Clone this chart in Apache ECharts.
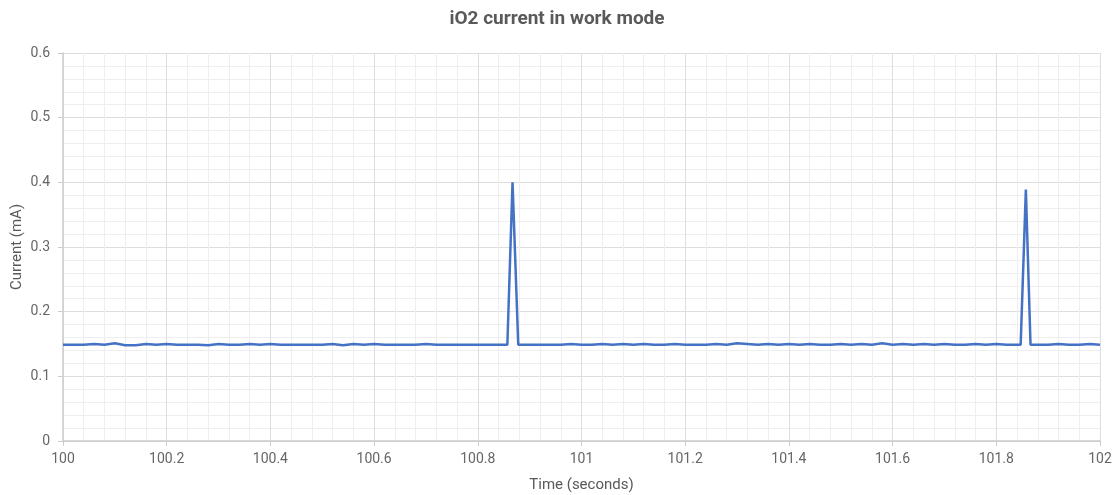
<!DOCTYPE html>
<html>
<head>
<meta charset="utf-8">
<script src="https://cdn.jsdelivr.net/npm/echarts@6/dist/echarts.min.js"></script>
<style>
  html, body { margin: 0; padding: 0; background: #fff; }
  #chart { width: 1114px; height: 495px; }
</style>
</head>
<body>
<div id="chart"></div>
<script>
// sample times (s) and measured current (mA)
const times = [
  100.00, 100.02, 100.04, 100.06, 100.08, 100.10, 100.12, 100.14, 100.16, 100.18,
  100.20, 100.22, 100.24, 100.26, 100.28, 100.30, 100.32, 100.34, 100.36, 100.38,
  100.40, 100.42, 100.44, 100.46, 100.48, 100.50, 100.52, 100.54, 100.56, 100.58,
  100.60, 100.62, 100.64, 100.66, 100.68, 100.70, 100.72, 100.74, 100.76, 100.78,
  100.80, 100.82, 100.84, 100.857, 100.867, 100.878, 100.90, 100.92, 100.94, 100.96,
  100.98, 101.00, 101.02, 101.04, 101.06, 101.08, 101.10, 101.12, 101.14, 101.16,
  101.18, 101.20, 101.22, 101.24, 101.26, 101.28, 101.30, 101.32, 101.34, 101.36,
  101.38, 101.40, 101.42, 101.44, 101.46, 101.48, 101.50, 101.52, 101.54, 101.56,
  101.58, 101.60, 101.62, 101.64, 101.66, 101.68, 101.70, 101.72, 101.74, 101.76,
  101.78, 101.80, 101.82, 101.847, 101.857, 101.866, 101.88, 101.90, 101.92, 101.94,
  101.96, 101.98, 102.00
]
const current = [
  0.149, 0.149, 0.149, 0.150, 0.149, 0.151, 0.148, 0.148, 0.150, 0.149,
  0.150, 0.149, 0.149, 0.149, 0.148, 0.150, 0.149, 0.149, 0.150, 0.149,
  0.150, 0.149, 0.149, 0.149, 0.149, 0.149, 0.150, 0.148, 0.150, 0.149,
  0.150, 0.149, 0.149, 0.149, 0.149, 0.150, 0.149, 0.149, 0.149, 0.149,
  0.149, 0.149, 0.149, 0.149, 0.400, 0.149, 0.149, 0.149, 0.149, 0.149,
  0.150, 0.149, 0.149, 0.150, 0.149, 0.150, 0.149, 0.150, 0.149, 0.149,
  0.150, 0.149, 0.149, 0.149, 0.150, 0.149, 0.151, 0.150, 0.149, 0.150,
  0.149, 0.150, 0.149, 0.150, 0.149, 0.149, 0.150, 0.149, 0.150, 0.149,
  0.151, 0.149, 0.150, 0.149, 0.150, 0.149, 0.150, 0.149, 0.149, 0.150,
  0.149, 0.150, 0.149, 0.149, 0.389, 0.149, 0.149, 0.149, 0.150, 0.149,
  0.149, 0.150, 0.149
]

const chart = echarts.init(document.getElementById('chart'))
const font = 'Roboto, "Noto Sans", sans-serif'
const option = {
  animation: false,
  title: {
    text: 'iO2 current in work mode',
    left: 'center',
    top: 5,
    textStyle: { fontFamily: font, fontSize: 19, fontWeight: 'bold', color: '#595959' }
  },
  grid: { left: 63, right: 14, top: 53, bottom: 54, outerBoundsMode: 'none' },
  xAxis: {
    type: 'value',
    min: 100,
    max: 102,
    interval: 0.2,
    name: 'Time (seconds)',
    nameLocation: 'middle',
    nameGap: 37,
    nameMoveOverlap: false,
    nameTextStyle: { fontFamily: font, fontSize: 15, color: '#595959' },
    axisLine: { lineStyle: { color: '#cccccc', width: 1.5 } },
    axisTick: { show: true, length: 5, lineStyle: { color: '#cccccc' } },
    axisLabel: { fontFamily: font, fontSize: 14, color: '#666', margin: 11 },
    splitLine: { show: true, lineStyle: { color: '#dedede', width: 1 } },
    minorTick: { show: false, splitNumber: 5 },
    minorSplitLine: { show: true, lineStyle: { color: '#eeeeee', width: 1 } }
  },
  yAxis: {
    type: 'value',
    min: 0,
    max: 0.6,
    interval: 0.1,
    name: 'Current (mA)',
    nameLocation: 'middle',
    nameGap: 38,
    nameMoveOverlap: false,
    nameTextStyle: { fontFamily: font, fontSize: 15, color: '#595959' },
    axisLine: { show: true, lineStyle: { color: '#cccccc', width: 1.5 } },
    axisTick: { show: true, length: 5, lineStyle: { color: '#cccccc' } },
    axisLabel: { fontFamily: font, fontSize: 14, color: '#666', margin: 13 },
    splitLine: { show: true, lineStyle: { color: '#dedede', width: 1 } },
    minorTick: { show: false, splitNumber: 5 },
    minorSplitLine: { show: true, lineStyle: { color: '#eeeeee', width: 1 } }
  },
  series: [
    {
      name: 'Current',
      type: 'line',
      data: times.map((t, i) => [t, current[i]]),
      showSymbol: false,
      lineStyle: { color: '#4472c4', width: 2.5 },
      itemStyle: { color: '#4472c4' }
    }
  ]
}
chart.setOption(option)
</script>
</body>
</html>
